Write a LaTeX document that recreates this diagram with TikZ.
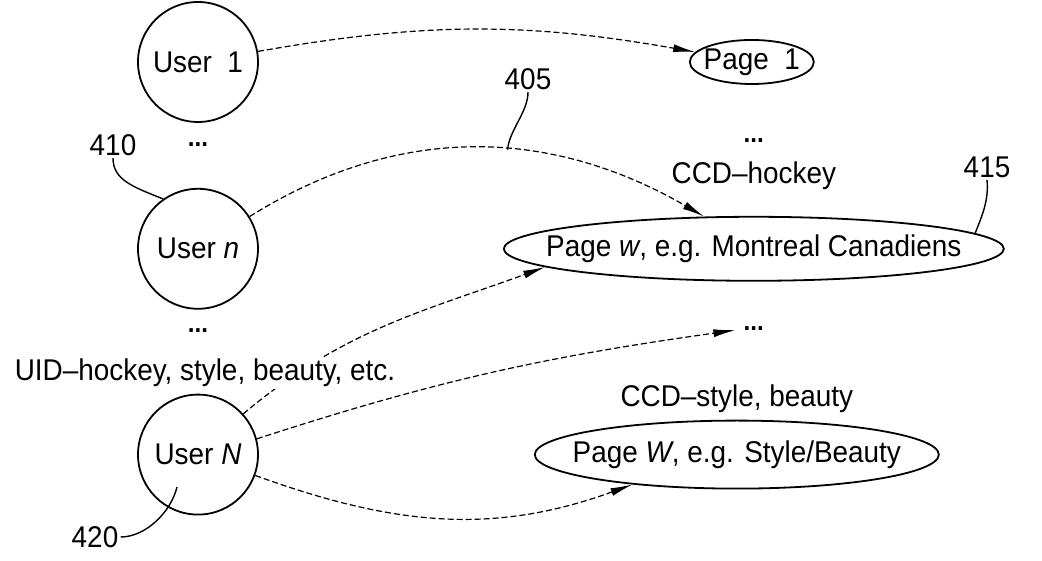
\documentclass[tikz,border=0pt]{standalone}
\usepackage{fontspec}
\setmainfont{Liberation Sans}[FakeStretch=0.93]
\usetikzlibrary{shapes.geometric, arrows.meta, positioning}

\begin{document}
\begin{tikzpicture}[
    x=0.5pt, y=0.5pt,
    font=\fontsize{15}{18}\selectfont,
    user/.style={circle, draw, line width=0.9pt, minimum size=60pt, inner sep=0pt},
    page/.style={ellipse, draw, line width=0.9pt, inner sep=0pt},
    dots/.style={inner sep=0pt, font=\fontsize{13}{15}\selectfont\bfseries},
    tag/.style={inner sep=1pt},
    link/.style={-{Latex[length=11pt,width=4pt]}, line width=0.6pt, dash pattern=on 3pt off 1.5pt},
    lead/.style={line width=0.7pt}
]
\useasboundingbox (0,0) rectangle (1042,561);

% Users
\node[user] (u1) at (198,499) {User\ \ 1};
\node[user, below=32.5pt of u1] (un) {User \textit{n}};
\node[user, below=42pt of un] (uN) {User \textit{N}};
\node[dots, below=9.5pt of u1] (d1) {...};
\node[dots, below=9.5pt of un] (d2) {...};

% Pages
\node[page, minimum width=62pt, minimum height=22pt, right=215pt of u1] (p1) {\makebox[0pt]{Page\ \ 1}};
\node[page, minimum width=250pt, minimum height=32pt, right=122pt of un] (pw) {\makebox[0pt]{Page \textit{w}, e.g. Montreal Canadiens}};
\node[page, minimum width=202pt, minimum height=34pt, right=137.5pt of uN] (pW) {\makebox[0pt]{Page \textit{W}, e.g. Style/Beauty}};
\node[tag, above=12pt of pw] (ccdh) {CCD--hockey};
\node[dots, above=8pt of ccdh] (d3) {...};
\node[tag, above=2.5pt of pW] (ccds) {CCD--style, beauty};
\node[dots, below=22.5pt of pw] (d4) {...};

% Links
\draw[link] (u1.10) to[out=10, in=170] (p1.170);
\draw[link] (un.32) to[out=32, in=150] coordinate[pos=0.57] (c405) (pw.147);
\draw[link] (uN.42) to[out=40, in=200] (pw.185);
\draw[link, shorten >=4pt] (uN.15) to[out=18, in=188] (d4.west);
\draw[link] (uN.-20) to[out=-20, in=200] (pW.196);

\node[tag, fill=white] (uid) at (205,188) {UID--hockey, style, beauty, etc.};

% Reference numerals
\node[tag] (l405) at (528,482) {405};
\node[tag] (l410) at (113,416) {410};
\node[tag] (l415) at (987,394) {415};
\node[tag] (l420) at (95,24) {420};
\coordinate (c420) at (177,74);

\draw[lead] (l405.south) .. controls +(0,-20) and +(2,20) .. (c405);
\draw[lead] (l410.south) .. controls +(0,-22) and +(-30,12) .. (un.125);
\draw[lead] (l415.south) .. controls +(2,-22) and +(6,16) .. (pw.4);
\draw[lead] (l420.east) .. controls +(25,0) and +(-6,-25) .. (c420);
\end{tikzpicture}
\end{document}
